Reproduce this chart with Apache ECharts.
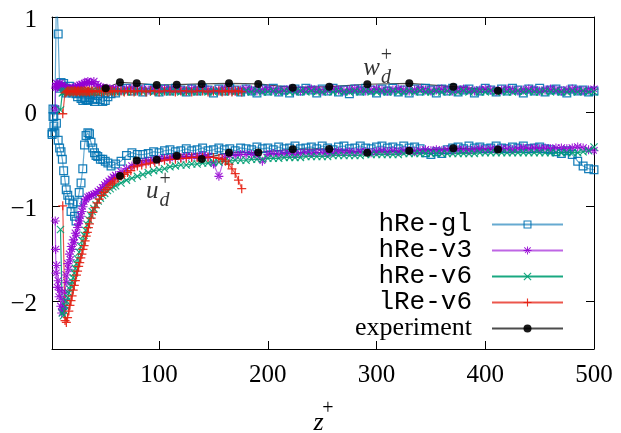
<!DOCTYPE html>
<html><head><meta charset="utf-8">
<script src="https://cdn.jsdelivr.net/npm/echarts@6/dist/echarts.min.js"></script>
<style>html,body{margin:0;padding:0;background:#fff}#c{width:621px;height:433px}</style>
</head><body><div id="c"></div>
<script>
// ---------- tick labels ----------
const xTicks = [100, 200, 300, 400, 500];
const yTicks = [-2, -1, 0, 1];

// ---------- shared outer z grid ----------
const zOuter = [60,65,70,75,80,85,90,95,100,105,110,115,120,125,130,135,140,145,150,155,160,165,170,175,180,185,190,195,200,205,210,215,220,225,230,235,240,245,250,255,260,265,270,275,280,285,290,295,300,305,310,315,320,325,330,335,340,345,350,355,360,365,370,375,380,385,390,395,400,405,410,415,420,425,430,435,440,445,450,455,460,465,470,475,480,485,490,495,500];

// ---------- hRe-gl ----------
const glZnear = [1.6,2.4,3.2,4.2,5.6,7.2,8.5,9.8,11,12.2,13.4,14.6,16,17.6,19,20.6,22.2,23.6,25,26.5,28.2,29.8,31.4,32.8,34.5,36,37.4,39,40.6,42,43.6,46,48.2,50.5,52.9,55.8];
const glUnear = [-0.24,-0.05,-0.15,-0.22,-0.12,-0.3,-0.38,-0.42,-0.5,-0.62,-0.72,-0.82,-0.88,-0.93,-1.05,-0.97,-1.1,-1.15,-0.95,-0.85,-0.75,-0.6,-0.35,-0.25,-0.22,-0.23,-0.32,-0.38,-0.43,-0.46,-0.47,-0.5,-0.5,-0.52,-0.54,-0.57];
const glWnear = [-0.22,0.03,-0.05,0.02,1.3,0.82,0.25,0.31,0.27,0.3,0.25,0.2,0.22,0.27,0.24,0.2,0.23,0.19,0.16,0.2,0.14,0.12,0.15,0.13,0.12,0.15,0.18,0.13,0.11,0.14,0.17,0.13,0.11,0.12,0.16,0.19];
const glUouter = [-0.55,-0.52,-0.46,-0.43,-0.45,-0.45,-0.44,-0.42,-0.43,-0.41,
  -0.40,-0.42,-0.41,-0.39,-0.41,-0.40,-0.38,-0.41,-0.40,-0.38,
  -0.40,-0.39,-0.41,-0.38,-0.39,-0.40,-0.37,-0.39,-0.38,-0.40,
  -0.37,-0.39,-0.38,-0.36,-0.39,-0.38,-0.37,-0.39,-0.36,-0.38,
  -0.40,-0.37,-0.36,-0.39,-0.38,-0.36,-0.38,-0.39,-0.37,-0.36,
  -0.38,-0.37,-0.39,-0.36,-0.38,-0.37,-0.39,-0.43,-0.45,-0.42,
  -0.44,-0.40,-0.38,-0.37,-0.39,-0.36,-0.38,-0.37,-0.39,-0.38,
  -0.36,-0.38,-0.39,-0.37,-0.38,-0.36,-0.39,-0.38,-0.37,-0.39,
  -0.40,-0.42,-0.44,-0.41,-0.45,-0.52,-0.57,-0.60,-0.61];
const glWouter = [0.20,0.23,0.25,0.22,0.24,0.21,0.25,0.23,0.21,0.24,
  0.22,0.25,0.23,0.21,0.24,0.22,0.25,0.23,0.20,0.24,
  0.22,0.25,0.23,0.21,0.24,0.22,0.20,0.24,0.22,0.25,
  0.21,0.23,0.20,0.24,0.22,0.25,0.23,0.20,0.24,0.22,
  0.25,0.21,0.23,0.19,0.24,0.22,0.25,0.23,0.20,0.24,
  0.22,0.25,0.21,0.23,0.20,0.24,0.22,0.25,0.23,0.20,
  0.24,0.22,0.25,0.21,0.23,0.24,0.20,0.22,0.25,0.23,
  0.21,0.24,0.22,0.25,0.23,0.20,0.24,0.22,0.25,0.21,
  0.23,0.24,0.22,0.20,0.24,0.22,0.23,0.21,0.22];

// ---------- hRe-v3 ----------
const v3Znear = [4.5,4.8,5.2,5.8,6.5,7.2,8,8.8,9.6,10.4,11.2,12,12.8,13.6,14.4,15.2,16,16.8,17.6,18.4,19.2,20,21,22,23,24,25,26,27,28,29,30,31.5,33,34.5,36,38,40,42,44,46,48,50,52,54,56,58];
const v3Unear = [-1.15,-1.45,-1.7,-1.62,-1.85,-1.78,-1.95,-1.88,-2.05,-2.12,-2.08,-1.98,-2.06,-1.9,-1.72,-1.8,-1.6,-1.66,-1.5,-1.56,-1.42,-1.45,-1.35,-1.38,-1.28,-1.3,-1.22,-1.18,-1.15,-1.1,-1.05,-1.0,-0.95,-0.92,-0.9,-0.89,-0.88,-0.87,-0.86,-0.84,-0.82,-0.8,-0.77,-0.75,-0.73,-0.71,-0.69];
const v3Wnear = [0.03,0.25,0.27,0.3,0.26,0.29,0.27,0.3,0.26,0.28,0.27,0.25,0.26,0.24,0.23,0.25,0.24,0.23,0.25,0.24,0.23,0.24,0.25,0.24,0.26,0.25,0.27,0.26,0.28,0.27,0.29,0.28,0.3,0.31,0.32,0.31,0.3,0.32,0.29,0.27,0.26,0.25,0.24,0.25,0.24,0.23,0.24];
const v3Uouter = [-0.67,-0.63,-0.60,-0.57,-0.55,-0.53,-0.52,-0.51,-0.50,-0.49,
  -0.49,-0.48,-0.48,-0.47,-0.47,-0.47,-0.46,-0.47,-0.55,-0.68,
  -0.48,-0.46,-0.46,-0.45,-0.45,-0.45,-0.46,-0.52,-0.45,-0.44,
  -0.45,-0.44,-0.44,-0.45,-0.44,-0.43,-0.44,-0.43,-0.43,-0.44,
  -0.43,-0.42,-0.43,-0.42,-0.43,-0.42,-0.42,-0.43,-0.42,-0.41,
  -0.42,-0.41,-0.42,-0.41,-0.41,-0.42,-0.41,-0.40,-0.41,-0.40,
  -0.41,-0.40,-0.41,-0.40,-0.40,-0.41,-0.40,-0.39,-0.40,-0.39,
  -0.40,-0.39,-0.39,-0.40,-0.39,-0.38,-0.39,-0.38,-0.39,-0.38,
  -0.39,-0.38,-0.38,-0.39,-0.38,-0.37,-0.38,-0.40,-0.41];
const v3Wouter = [0.24,0.23,0.24,0.25,0.23,0.24,0.23,0.24,0.23,0.24,
  0.23,0.24,0.23,0.22,0.24,0.23,0.24,0.23,0.22,0.23,
  0.24,0.23,0.22,0.23,0.24,0.23,0.22,0.23,0.24,0.23,
  0.22,0.23,0.24,0.23,0.22,0.23,0.24,0.23,0.22,0.23,
  0.24,0.23,0.22,0.23,0.24,0.23,0.22,0.23,0.24,0.23,
  0.22,0.23,0.24,0.23,0.22,0.23,0.24,0.23,0.22,0.23,
  0.24,0.23,0.22,0.23,0.24,0.23,0.22,0.23,0.24,0.23,
  0.22,0.23,0.24,0.23,0.22,0.23,0.24,0.23,0.22,0.23,
  0.24,0.23,0.22,0.23,0.24,0.23,0.22,0.23,0.24];

// ---------- hRe-v6 ----------
const v6Znear = [9.3,11,12,13,14,15,16,17,18,19,20,21,22,23,24,25,26.5,28,29.5,31,32.5,34,35.5,37,38.5,40,42,44,46,48,50,52.5,55,57.5];
const v6Unear = [-1.24,-2.12,-2.15,-2.1,-2.05,-2.0,-1.96,-1.91,-1.87,-1.83,-1.79,-1.75,-1.7,-1.65,-1.6,-1.55,-1.48,-1.42,-1.36,-1.3,-1.25,-1.19,-1.14,-1.09,-1.05,-1.02,-0.98,-0.94,-0.91,-0.88,-0.86,-0.83,-0.81,-0.79];
const v6Wnear = [0.02,0.2,0.21,0.22,0.21,0.22,0.21,0.21,0.22,0.21,0.22,0.21,0.21,0.22,0.21,0.22,0.21,0.22,0.21,0.21,0.22,0.21,0.22,0.21,0.22,0.21,0.21,0.22,0.21,0.22,0.21,0.22,0.21,0.21];
const v6Uouter = [-0.78,-0.75,-0.72,-0.70,-0.68,-0.66,-0.64,-0.62,-0.61,-0.60,
  -0.58,-0.57,-0.56,-0.56,-0.55,-0.55,-0.54,-0.54,-0.53,-0.53,
  -0.52,-0.52,-0.51,-0.51,-0.51,-0.50,-0.50,-0.50,-0.49,-0.49,
  -0.49,-0.48,-0.48,-0.48,-0.48,-0.47,-0.47,-0.47,-0.47,-0.47,
  -0.46,-0.46,-0.46,-0.46,-0.46,-0.46,-0.45,-0.45,-0.45,-0.45,
  -0.45,-0.45,-0.45,-0.44,-0.44,-0.44,-0.44,-0.44,-0.44,-0.44,
  -0.44,-0.44,-0.44,-0.44,-0.44,-0.44,-0.44,-0.43,-0.43,-0.43,
  -0.43,-0.43,-0.43,-0.43,-0.43,-0.43,-0.43,-0.43,-0.43,-0.43,
  -0.43,-0.43,-0.43,-0.43,-0.43,-0.43,-0.42,-0.41,-0.37];
const v6Wouter = [0.21,0.22,0.21,0.21,0.22,0.21,0.22,0.21,0.21,0.22,
  0.21,0.22,0.21,0.21,0.22,0.21,0.22,0.21,0.21,0.22,
  0.21,0.22,0.21,0.21,0.22,0.21,0.22,0.21,0.21,0.22,
  0.21,0.22,0.21,0.21,0.22,0.21,0.22,0.21,0.21,0.22,
  0.21,0.22,0.21,0.21,0.22,0.21,0.22,0.21,0.21,0.22,
  0.21,0.22,0.21,0.21,0.22,0.21,0.22,0.21,0.21,0.22,
  0.21,0.22,0.21,0.21,0.22,0.21,0.22,0.21,0.21,0.22,
  0.21,0.22,0.21,0.21,0.22,0.21,0.22,0.21,0.21,0.22,
  0.21,0.22,0.21,0.21,0.22,0.21,0.22,0.21,0.21];

// ---------- lRe-v6 ----------
const lrZ = [11.4,13.5,14.7,15.8,17,18,19,20,21,22,23,24,25,26,27,28,29,30,31,32,33,34,35,36,37.5,39,41,43,45,47,49,51,53,55,57,59,62,65,68,71,74,77,80,84,88,92,96,100,105,110,115,120,125,130,135,140,145,150,155,158,161,164,167,170,173,176];
const lrU = [-0.99,-2.2,-2.22,-2.17,-2.1,-2.04,-1.99,-1.94,-1.88,-1.83,
  -1.78,-1.72,-1.68,-1.63,-1.59,-1.54,-1.5,-1.45,-1.41,-1.36,
  -1.31,-1.27,-1.22,-1.18,-1.12,-1.06,-1.01,-0.96,-0.92,-0.88,
  -0.85,-0.82,-0.8,-0.77,-0.75,-0.73,-0.7,-0.68,-0.66,-0.64,
  -0.62,-0.58,-0.57,-0.56,-0.55,-0.54,-0.53,-0.52,-0.51,-0.5,
  -0.5,-0.49,-0.49,-0.48,-0.48,-0.48,-0.48,-0.48,-0.49,-0.5,
  -0.52,-0.55,-0.6,-0.65,-0.72,-0.81];
const lrW = [-0.02,0.2,0.21,0.22,0.22,0.21,0.22,0.22,0.21,0.22,
  0.22,0.21,0.22,0.22,0.21,0.22,0.22,0.21,0.22,0.22,
  0.21,0.22,0.22,0.21,0.22,0.22,0.21,0.22,0.22,0.21,
  0.22,0.22,0.21,0.22,0.22,0.21,0.22,0.22,0.21,0.22,
  0.22,0.21,0.22,0.22,0.21,0.22,0.22,0.21,0.22,0.22,
  0.21,0.22,0.22,0.21,0.22,0.22,0.21,0.22,0.22,0.21,
  0.22,0.22,0.21,0.22,0.22,0.21];

// ---------- experiment ----------
const expZ = [50.9,64,79.4,97.8,116.2,139.2,164.3,191.2,222.9,256.5,291.5,330.1,370.6,411.7];
const expW = [0.249,0.312,0.301,0.283,0.287,0.294,0.301,0.294,0.255,0.266,0.291,0.301,0.266,0.223];
const expU = [null,-0.675,-0.514,-0.504,-0.462,-0.496,-0.43,-0.428,-0.394,-0.391,-0.43,-0.409,-0.384,-0.396];

// ---------- annotations (text placed in data space) ----------
const annotText = ['w', '+', 'd', 'u', '+', 'd'];
const annotZ = [295.5, 309.0, 308.7, 93.6, 105.5, 105.0];
const annotV = [0.458, 0.588, 0.355, -0.844, -0.718, -0.939];

// ---------- build ----------
const SQUARE = 'path://M0,0H10V10H0Z M1.4,1.4V8.6H8.6V1.4Z';
const PLUS = 'path://M4.3,0H5.7V4.3H10V5.7H5.7V10H4.3V5.7H0V4.3H4.3Z';
const CROSS = 'path://M0.566,-0.566L10.566,9.434L9.434,10.566L-0.566,0.566Z M10.566,0.566L0.566,10.566L-0.566,9.434L9.434,-0.566Z';
const STAR = 'path://M4.4,0H5.6V4.4H10V5.6H5.6V10H4.4V5.6H0V4.4H4.4Z M1.46,0.61L8.54,7.68L7.68,8.54L0.61,1.46Z M8.54,0.61L1.46,7.68L2.32,8.54L9.39,1.46Z';

function pairs(z, v) { return z.map((x, i) => [x, v[i]]).filter(p => p[1] != null); }

const sims = [
  {name: 'hRe-gl', z: glZnear.concat(zOuter), u: glUnear.concat(glUouter), w: glWnear.concat(glWouter), color: '#0072b2', symbol: SQUARE, size: 9, lop: 0.6},
  {name: 'hRe-v3', z: v3Znear.concat(zOuter), u: v3Unear.concat(v3Uouter), w: v3Wnear.concat(v3Wouter), color: '#9400d3', symbol: STAR, size: 9, lop: 0.6},
  {name: 'hRe-v6', z: v6Znear.concat(zOuter), u: v6Unear.concat(v6Uouter), w: v6Wnear.concat(v6Wouter), color: '#009e73', symbol: CROSS, size: 8, lop: 0.9},
  {name: 'lRe-v6', z: lrZ, u: lrU, w: lrW, color: '#e51e10', symbol: PLUS, size: 9, lop: 0.75},
  {name: 'experiment', z: expZ, u: expU, w: expW, color: '#000000', symbol: 'circle', size: 8, lop: 0.7}
];

const series = [];
sims.forEach(s => {
  ['u', 'w'].forEach(k => {
    series.push({
      type: 'line', name: s.name, data: pairs(s.z, s[k]),
      symbol: s.symbol, symbolSize: s.size, showSymbol: true,
      lineStyle: {color: s.color, width: 1.2, opacity: s.lop},
      itemStyle: {color: s.color, opacity: 0.9},
      clip: true, silent: true, animation: false
    });
  });
});

const annotStyle = [
  {fontSize: 25, fontStyle: 'italic'}, {fontSize: 20, fontStyle: 'normal'}, {fontSize: 20, fontStyle: 'italic'},
  {fontSize: 25, fontStyle: 'italic'}, {fontSize: 20, fontStyle: 'normal'}, {fontSize: 20, fontStyle: 'italic'}
];
series.push({
  type: 'scatter', name: 'annot', silent: true, animation: false, symbolSize: 1,
  itemStyle: {color: 'rgba(0,0,0,0)'},
  data: annotText.map((t, i) => ({
    value: [annotZ[i], annotV[i]],
    label: Object.assign({show: true, position: 'inside', formatter: t, color: '#000', fontFamily: 'Liberation Serif'}, annotStyle[i])
  })),
  z: 10
});

const labelFont = {fontFamily: 'Liberation Serif', fontSize: 25, color: '#000'};
const axisLine = {show: true, onZero: false, lineStyle: {color: '#000', width: 1}};
const tickStyle = {show: true, inside: true, length: 8, lineStyle: {color: '#000', width: 1}};

const option = {
  animation: false,
  backgroundColor: '#fff',
  grid: {left: 52, right: 27, top: 17, bottom: 84, containLabel: false, outerBoundsMode: 'none'},
  xAxis: [
    {type: 'value', position: 'bottom', min: 1.5, max: 500,
     axisLine: axisLine, splitLine: {show: false},
     axisTick: Object.assign({customValues: xTicks}, tickStyle),
     axisLabel: Object.assign({customValues: xTicks, margin: 14}, labelFont),
     name: '{sp1|  }{p|+}\n{z|z}{sp2|  }', nameLocation: 'middle', nameGap: 55,
     nameTextStyle: {rich: {
       p: {fontFamily: 'Liberation Serif', fontSize: 20, lineHeight: 10, color: '#000'},
       sp1: {fontFamily: 'Liberation Serif', fontSize: 20, lineHeight: 10},
       z: {fontFamily: 'Liberation Serif', fontStyle: 'italic', fontSize: 26, lineHeight: 18, color: '#000'},
       sp2: {fontFamily: 'Liberation Serif', fontSize: 18, lineHeight: 18}
     }}},
    {type: 'value', position: 'top', min: 1.5, max: 500,
     axisLine: axisLine, splitLine: {show: false},
     axisTick: Object.assign({customValues: xTicks}, tickStyle),
     axisLabel: {show: false}}
  ],
  yAxis: [
    {type: 'value', position: 'left', min: -2.5, max: 1,
     axisLine: axisLine, splitLine: {show: false},
     axisTick: Object.assign({customValues: yTicks}, tickStyle),
     axisLabel: Object.assign({customValues: yTicks, margin: 15, verticalAlign: 'top', lineHeight: 6, formatter: v => String(v).replace('-', '\u2212')}, labelFont)},
    {type: 'value', position: 'right', min: -2.5, max: 1,
     axisLine: axisLine, splitLine: {show: false},
     axisTick: Object.assign({customValues: yTicks}, tickStyle),
     axisLabel: {show: false}}
  ],
  legend: {
    data: sims.map(s => s.name), orient: 'vertical', right: 52, top: 206.5, align: 'right',
    itemWidth: 71, itemHeight: 10, itemGap: 0, selectedMode: false,
    formatter: n => n === 'experiment' ? '{s|' + n + '}' : '{m|' + n + '}',
    textStyle: {color: '#000', rich: {
      m: {fontFamily: 'Liberation Mono', fontSize: 26, lineHeight: 27, padding: [0, 15, 0, 0], color: '#000'},
      s: {fontFamily: 'Liberation Serif', fontSize: 26, lineHeight: 27, padding: [0, 15, 0, 0], color: '#000'}
    }}
  },
  series: series
};

const chart = echarts.init(document.getElementById('c'), null, {renderer: 'canvas'});
chart.setOption(option);
</script></body></html>
